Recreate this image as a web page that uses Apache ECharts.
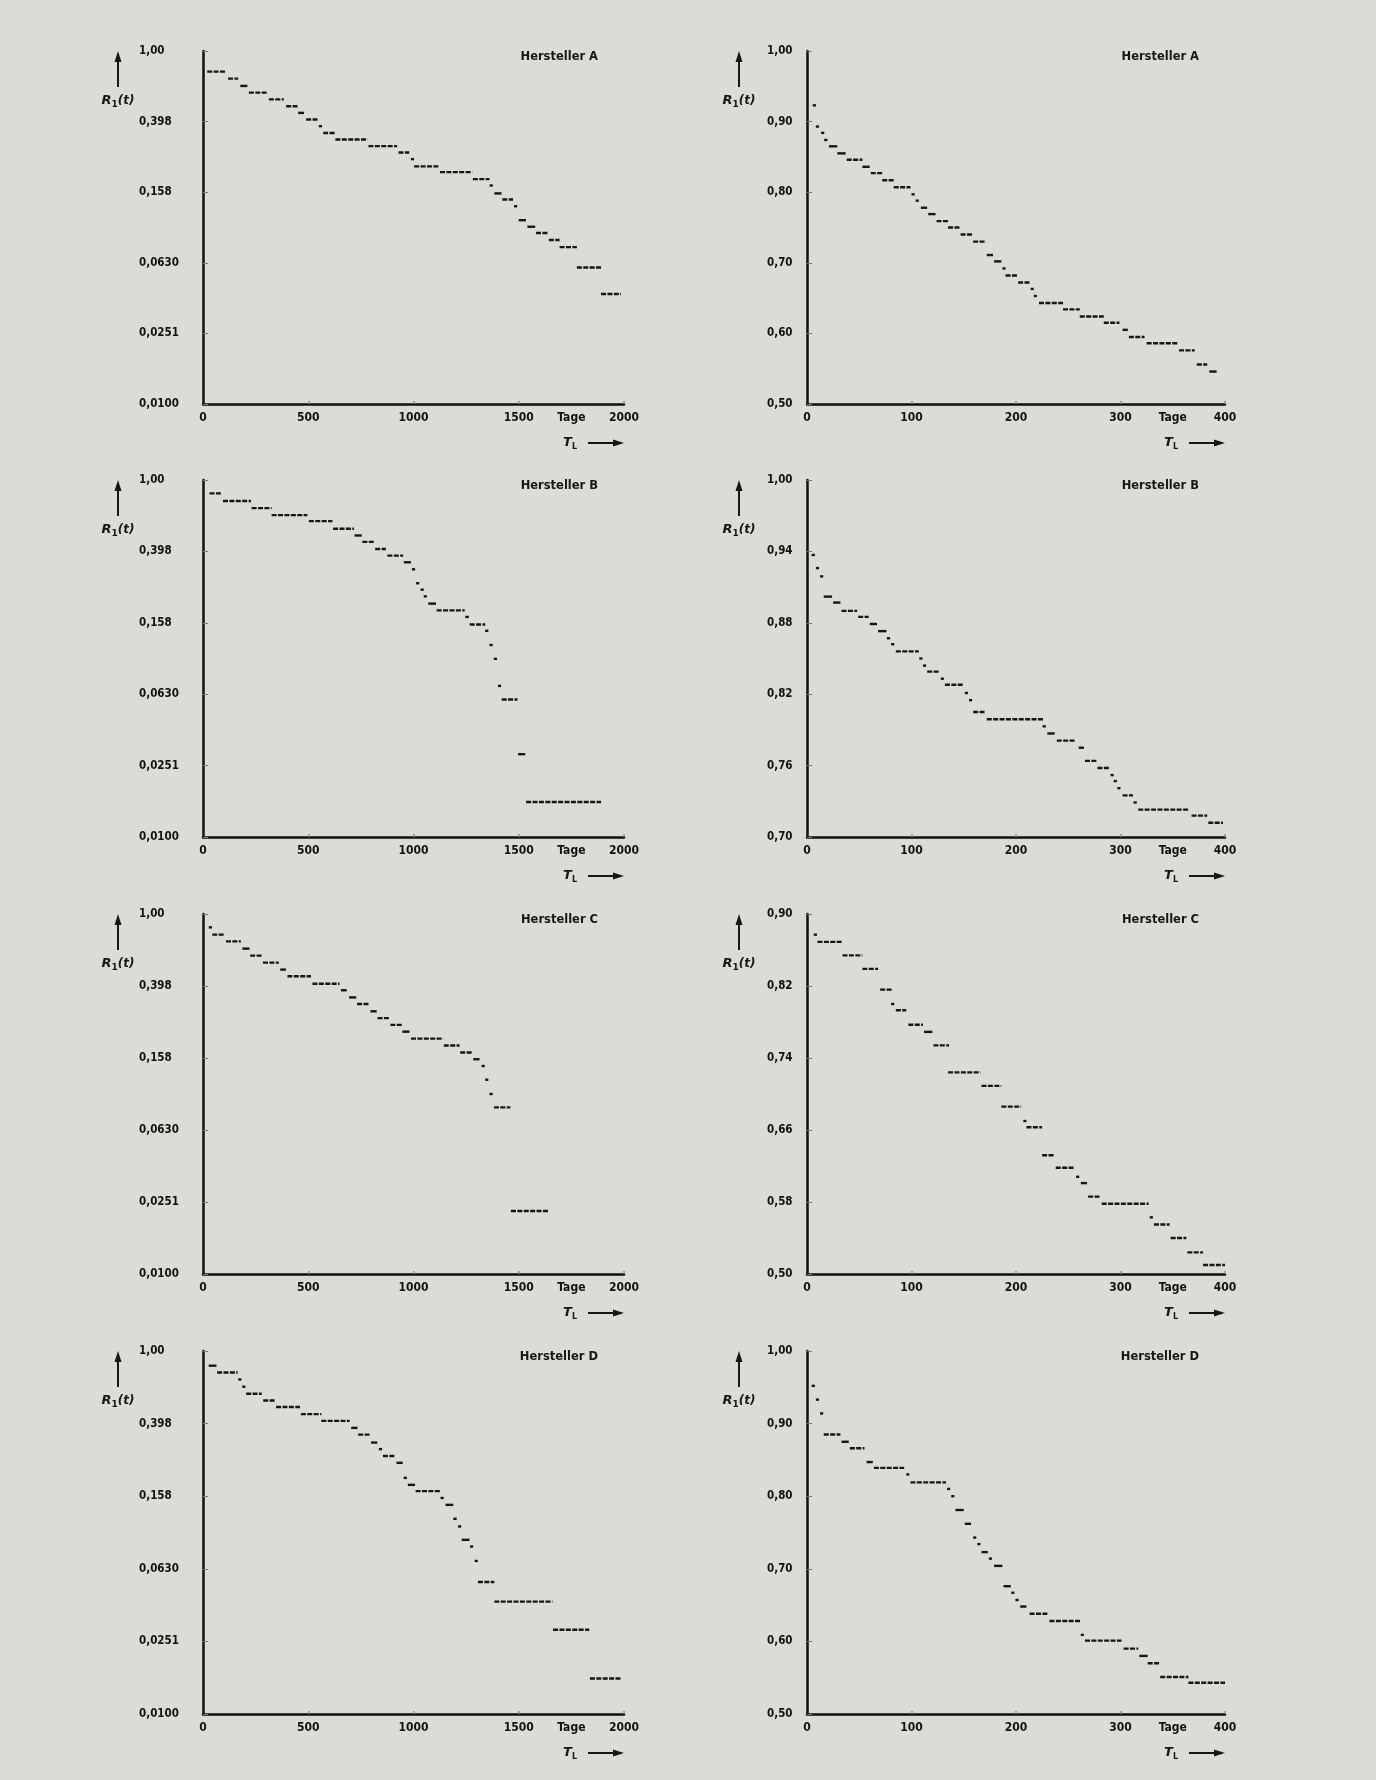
<!DOCTYPE html>
<html><head><meta charset="utf-8">
<script src="https://cdn.jsdelivr.net/npm/echarts@6/dist/echarts.min.js"></script>
<style>html,body{margin:0;padding:0;background:#dddbd5;}#c{width:1376px;height:1780px;}</style>
</head><body><div id="c"></div>
<script>
// ---------- tick labels ----------
const logTickLabels = ['0,0100', '0,0251', '0,0630', '0,158', '0,398', '1,00'];
const xLongTicks = [0, 500, 1000, 1500, 1750, 2000];
const xLongLabels = ['0', '500', '1000', '1500', 'Tage', '2000'];
const xShortTicks = [0, 100, 200, 300, 350, 400];
const xShortLabels = ['0', '100', '200', '300', 'Tage', '400'];
const yTicksRA = [0.50, 0.60, 0.70, 0.80, 0.90, 1.00];
const yLabelsRA = ['0,50', '0,60', '0,70', '0,80', '0,90', '1,00'];
const yTicksRB = [0.70, 0.76, 0.82, 0.88, 0.94, 1.00];
const yLabelsRB = ['0,70', '0,76', '0,82', '0,88', '0,94', '1,00'];
const yTicksRC = [0.50, 0.58, 0.66, 0.74, 0.82, 0.90];
const yLabelsRC = ['0,50', '0,58', '0,66', '0,74', '0,82', '0,90'];
const yTicksRD = [0.50, 0.60, 0.70, 0.80, 0.90, 1.00];
const yLabelsRD = ['0,50', '0,60', '0,70', '0,80', '0,90', '1,00'];
const titles = ['Hersteller A', 'Hersteller B', 'Hersteller C', 'Hersteller D'];

// ---------- data: [start day, end day, R1(t)] ----------
const stepsLA = [[20,109,0.764],[119,167,0.697],[177,211,0.634],[218,306,0.581],[313,384,0.532],[395,449,0.486],[452,480,0.446],[490,544,0.409],[551,565,0.375],[571,626,0.343],[629,782,0.315],[786,922,0.289],[929,980,0.266],[990,1000,0.244],[1003,1122,0.222],[1126,1279,0.206],[1282,1361,0.188],[1364,1374,0.173],[1384,1418,0.156],[1422,1473,0.144],[1480,1490,0.132],[1500,1534,0.110],[1541,1578,0.101],[1582,1639,0.093],[1643,1694,0.085],[1694,1776,0.0774],[1776,1891,0.0594],[1891,1986,0.0420]];
const stepsRA = [[6,8,0.923],[9,11,0.893],[14,16,0.884],[17,19,0.874],[21,29,0.865],[29,37,0.855],[38,53,0.846],[53,60,0.836],[61,72,0.827],[72,83,0.817],[83,99,0.807],[100,103,0.797],[104,107,0.788],[109,115,0.778],[116,123,0.769],[124,135,0.759],[135,146,0.750],[147,159,0.740],[159,171,0.730],[172,178,0.711],[179,186,0.702],[187,190,0.692],[190,201,0.682],[202,213,0.672],[214,217,0.663],[217,220,0.653],[222,245,0.643],[245,261,0.634],[261,284,0.624],[284,299,0.615],[302,307,0.605],[308,323,0.595],[325,355,0.586],[356,371,0.576],[373,383,0.556],[385,392,0.546]];
const stepsLB = [[31,88,0.841],[95,228,0.762],[231,326,0.696],[326,496,0.636],[503,615,0.588],[618,717,0.533],[720,754,0.489],[757,812,0.450],[818,869,0.411],[876,951,0.377],[954,988,0.346],[995,1005,0.316],[1015,1025,0.264],[1036,1046,0.243],[1053,1059,0.223],[1070,1107,0.203],[1110,1243,0.186],[1246,1263,0.171],[1267,1341,0.155],[1341,1355,0.143],[1362,1375,0.119],[1382,1396,0.0996],[1402,1416,0.0702],[1419,1494,0.0589],[1497,1531,0.0291],[1535,1891,0.0157]];
const stepsRB = [[5,7,0.937],[9,11,0.926],[13,15,0.919],[16,24,0.902],[25,32,0.897],[33,48,0.890],[49,59,0.885],[60,67,0.879],[68,76,0.873],[77,79,0.867],[81,83,0.862],[85,107,0.856],[108,110,0.850],[111,114,0.844],[115,126,0.839],[128,131,0.833],[132,150,0.828],[151,154,0.821],[155,158,0.815],[159,171,0.805],[172,226,0.799],[226,228,0.793],[230,237,0.787],[239,256,0.781],[260,265,0.775],[266,277,0.764],[278,289,0.758],[291,293,0.752],[294,296,0.747],[297,300,0.741],[302,312,0.735],[313,315,0.729],[317,366,0.723],[368,383,0.718],[384,398,0.712]];
const stepsLC = [[34,36,0.843],[44,105,0.768],[109,180,0.705],[187,221,0.642],[224,282,0.587],[285,360,0.537],[367,394,0.491],[401,513,0.451],[520,649,0.410],[655,683,0.377],[694,728,0.344],[732,787,0.316],[795,825,0.288],[829,886,0.264],[890,944,0.242],[947,981,0.222],[988,1141,0.203],[1144,1219,0.186],[1222,1280,0.170],[1284,1314,0.156],[1324,1338,0.143],[1341,1355,0.120],[1362,1375,0.100],[1382,1460,0.0843],[1463,1640,0.0224]];
const stepsRC = [[7,9,0.877],[10,34,0.869],[34,53,0.854],[53,68,0.839],[70,81,0.816],[81,83,0.800],[85,95,0.793],[97,111,0.777],[112,120,0.769],[121,136,0.754],[135,166,0.724],[167,186,0.709],[186,205,0.686],[207,210,0.670],[210,225,0.663],[225,236,0.632],[238,256,0.618],[258,260,0.608],[262,268,0.601],[269,281,0.586],[282,327,0.578],[328,331,0.563],[332,347,0.555],[348,363,0.540],[364,379,0.524],[379,400,0.510]];
const stepsLD = [[27,64,0.830],[67,165,0.762],[172,178,0.697],[189,199,0.636],[205,279,0.581],[286,343,0.534],[347,461,0.491],[465,562,0.449],[562,697,0.412],[704,734,0.377],[737,795,0.346],[798,828,0.313],[838,848,0.288],[855,909,0.264],[919,949,0.242],[956,966,0.200],[973,1007,0.183],[1010,1131,0.169],[1131,1141,0.155],[1152,1189,0.142],[1189,1205,0.119],[1212,1226,0.108],[1229,1266,0.0911],[1269,1283,0.0837],[1293,1303,0.0697],[1306,1384,0.0534],[1384,1660,0.0416],[1663,1835,0.0291],[1838,1990,0.0157]];
const stepsRD = [[5,7,0.952],[9,11,0.933],[13,15,0.914],[16,32,0.885],[33,40,0.875],[41,55,0.866],[57,63,0.847],[64,93,0.839],[95,98,0.830],[99,133,0.819],[134,137,0.810],[138,141,0.800],[142,150,0.781],[151,157,0.762],[159,162,0.743],[163,166,0.734],[167,173,0.723],[174,177,0.714],[179,187,0.704],[188,195,0.676],[196,198,0.667],[200,202,0.657],[204,210,0.648],[213,230,0.638],[232,262,0.628],[262,265,0.609],[266,301,0.601],[303,317,0.590],[318,326,0.580],[326,338,0.570],[338,365,0.551],[365,400,0.543]];

// ---------- layout ----------
const INK = '#161616';
const LBL_FONT = "'DejaVu Sans Condensed','Liberation Sans Narrow','DejaVu Sans',sans-serif";
const TTL_FONT = "'DejaVu Sans','Liberation Sans',sans-serif";
const rows = [{top: 51, h: 353}, {top: 480, h: 357}, {top: 914, h: 360}, {top: 1351, h: 363}];
const colL = {left: 203, width: 421};
const colR = {left: 807, width: 418};

const leftSteps = [stepsLA, stepsLB, stepsLC, stepsLD];
const rightSteps = [stepsRA, stepsRB, stepsRC, stepsRD];
const rightTicks = [yTicksRA, yTicksRB, yTicksRC, yTicksRD];
const rightLabels = [yLabelsRA, yLabelsRB, yLabelsRC, yLabelsRD];

function pick(ticks, labels, v) {
  for (let i = 0; i < ticks.length; i++) if (Math.abs(ticks[i] - v) < 1e-6 * Math.max(1, Math.abs(v))) return labels[i];
  return '';
}
function renderStep(params, api) {
  const x0 = api.value(0), x1 = api.value(1), r = api.value(2);
  const p0 = api.coord([x0, r]), p1 = api.coord([x1, r]);
  let a = p0[0], b = p1[0];
  if (b - a < 3) { const m = (a + b) / 2; a = m - 1.6; b = m + 1.6; }
  return {
    type: 'line',
    shape: {x1: a, y1: p0[1], x2: b, y2: p1[1]},
    style: {stroke: INK, lineWidth: 2.4, lineDash: (b - a) > 9 ? [5, 1.4] : null}
  };
}

const grids = [], xAxes = [], yAxes = [], series = [], graphics = [];
const axisLineStyle = {color: '#111', width: 2.5};
const labelBase = {color: '#111', fontWeight: 'bold', fontSize: 11.5, fontFamily: LBL_FONT};

rows.forEach((row, r) => {
  [colL, colR].forEach((col, c) => {
    const gi = grids.length;
    grids.push({left: col.left, top: row.top, width: col.width, height: row.h, containLabel: false});
    const isLong = c === 0;
    const xt = isLong ? xLongTicks : xShortTicks;
    const xl = isLong ? xLongLabels : xShortLabels;
    xAxes.push({
      gridIndex: gi, type: 'value', min: 0, max: isLong ? 2000 : 400,
      axisLine: {show: true, onZero: false, lineStyle: axisLineStyle},
      axisTick: {show: true, inside: true, length: 3, customValues: isLong ? [500, 1000, 1500, 2000] : [100, 200, 300, 400], lineStyle: {color: '#888', width: 1.5}},
      axisLabel: Object.assign({}, labelBase, {customValues: xt, formatter: v => pick(xt, xl, v), margin: 8, showMinLabel: true, showMaxLabel: true, fontSize: 12}),
      splitLine: {show: false}
    });
    if (isLong) {
      yAxes.push({
        gridIndex: gi, type: 'log', logBase: Math.pow(10, 0.4), min: 0.01, max: 1,
        axisLine: {show: true, lineStyle: axisLineStyle},
        axisTick: {show: true, inside: true, length: 5, lineStyle: {color: '#777', width: 1}},
        axisLabel: Object.assign({}, labelBase, {align: 'left', margin: 64, showMinLabel: true, showMaxLabel: true,
          formatter: v => { const e = Math.round(Math.log10(v) / 0.4); return logTickLabels[e + 5] || ''; }}),
        splitLine: {show: false}, minorTick: {show: false}
      });
    } else {
      const yt = rightTicks[r], yl = rightLabels[r];
      yAxes.push({
        gridIndex: gi, type: 'value', min: yt[0], max: yt[yt.length - 1],
        axisLine: {show: true, onZero: false, lineStyle: axisLineStyle},
        axisTick: {show: true, inside: true, length: 5, customValues: yt, lineStyle: {color: '#777', width: 1}},
        axisLabel: Object.assign({}, labelBase, {align: 'left', margin: 40, customValues: yt, formatter: v => pick(yt, yl, v), showMinLabel: true, showMaxLabel: true}),
        splitLine: {show: false}
      });
    }
    series.push({
      type: 'custom', xAxisIndex: gi, yAxisIndex: gi,
      renderItem: renderStep, encode: {x: [0, 1], y: 2},
      data: isLong ? leftSteps[r] : rightSteps[r], silent: true, clip: false
    });

    // decorations: R1(t) arrow + label, title, T_L arrow
    const ax = isLong ? 118 : 739;
    const top = row.top, bottom = row.top + row.h, right = col.left + col.width;
    graphics.push({type: 'line', shape: {x1: ax, y1: top + 36, x2: ax, y2: top + 9}, style: {stroke: INK, lineWidth: 2}});
    graphics.push({type: 'polygon', shape: {points: [[ax - 3.5, top + 11], [ax + 3.5, top + 11], [ax, top]]}, style: {fill: INK}});
    graphics.push({type: 'text', x: ax, y: top + 50, style: {
      text: '{r|R}{s|1}{p|(t)}', align: 'center', verticalAlign: 'middle',
      rich: {
        r: {fontSize: 13, fontStyle: 'italic', fontWeight: 'bold', fontFamily: TTL_FONT, fill: INK, lineHeight: 16},
        s: {fontSize: 9, fontWeight: 'bold', fontFamily: TTL_FONT, fill: INK, lineHeight: 10, verticalAlign: 'bottom'},
        p: {fontSize: 12, fontStyle: 'italic', fontWeight: 'bold', fontFamily: TTL_FONT, fill: INK, lineHeight: 16}
      }}});
    graphics.push({type: 'text', x: right - 26, y: top + 6, style: {
      text: titles[r], align: 'right', verticalAlign: 'middle', fill: INK,
      font: "bold 11.5px " + TTL_FONT}});
    graphics.push({type: 'text', x: right - 54, y: bottom + 39, style: {
      text: '{t|T}{s|L}', align: 'center', verticalAlign: 'middle',
      rich: {
        t: {fontSize: 13, fontStyle: 'italic', fontWeight: 'bold', fontFamily: TTL_FONT, fill: INK, lineHeight: 16},
        s: {fontSize: 8, fontWeight: 'bold', fontFamily: TTL_FONT, fill: INK, lineHeight: 9, verticalAlign: 'bottom'}
      }}});
    graphics.push({type: 'line', shape: {x1: right - 36, y1: bottom + 39, x2: right - 8, y2: bottom + 39}, style: {stroke: INK, lineWidth: 2}});
    graphics.push({type: 'polygon', shape: {points: [[right - 11, bottom + 35.5], [right - 11, bottom + 42.5], [right, bottom + 39]]}, style: {fill: INK}});
  });
});

const chart = echarts.init(document.getElementById('c'), null, {renderer: 'canvas'});
chart.setOption({
  backgroundColor: '#dddbd5',
  animation: false,
  grid: grids, xAxis: xAxes, yAxis: yAxes, series: series,
  graphic: {elements: graphics}
});
</script></body></html>
